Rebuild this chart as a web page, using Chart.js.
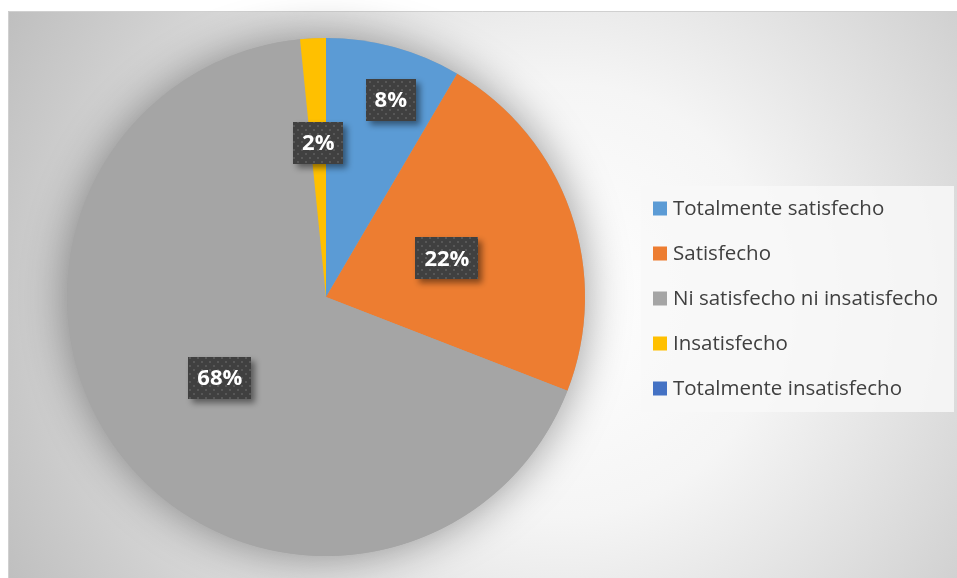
<!DOCTYPE html>
<html>
<head>
<meta charset="utf-8">
<script src="https://cdn.jsdelivr.net/npm/chart.js@4"></script>
<style>
  html, body { margin: 0; padding: 0; background: #fff; }
  #wrap { width: 957px; height: 578px; position: relative; }
</style>
</head>
<body>
<div id="wrap"><canvas id="chartSatisfaccion" width="957" height="578"></canvas></div>
<script>
// ====================================
// DATOS
// ====================================
const categorias = [
    'Totalmente satisfecho',
    'Satisfecho',
    'Ni satisfecho ni insatisfecho',
    'Insatisfecho',
    'Totalmente insatisfecho'
];
const porcentajes = [8.45, 22.45, 67.5, 1.6, 0];
const colores = ['#5b9bd5', '#ed7d31', '#a5a5a5', '#ffc000', '#4472c4'];

// posición de cada etiqueta (fracción del radio, desvío angular en grados)
const radioEtiqueta = [0.8, 0.49, 0.515, 0.595, 0.5];
const desvioEtiqueta = [3, 1.5, 0, 0, 0];

const FONT = '"Open Sans", "DejaVu Sans", sans-serif';

// patrón punteado de las cajas de etiqueta
function crearPatron(ctx) {
    const c = document.createElement('canvas');
    c.width = 8; c.height = 8;
    const p = c.getContext('2d');
    p.fillStyle = '#404040';
    p.fillRect(0, 0, 8, 8);
    p.fillStyle = '#575757';
    p.fillRect(1, 1, 2, 2);
    p.fillRect(5, 5, 2, 2);
    return ctx.createPattern(c, 'repeat');
}

// fondo con degradado radial y marco
const fondoPlugin = {
    id: 'fondo',
    beforeDraw(chart) {
        const ctx = chart.ctx;
        ctx.save();
        ctx.fillStyle = '#ffffff';
        ctx.fillRect(0, 0, chart.width, chart.height);
        const g = ctx.createRadialGradient(560, 300, 0, 560, 300, 620);
        g.addColorStop(0, '#ffffff');
        g.addColorStop(0.35, '#f5f5f5');
        g.addColorStop(1, '#bfbfbf');
        ctx.fillStyle = g;
        ctx.fillRect(8, 11, chart.width - 8, chart.height - 11);
        ctx.strokeStyle = '#d0d0d0';
        ctx.lineWidth = 1;
        ctx.beginPath();
        ctx.moveTo(8.5, chart.height);
        ctx.lineTo(8.5, 11.5);
        ctx.lineTo(chart.width, 11.5);
        ctx.stroke();
        ctx.restore();
    },
    beforeDatasetsDraw(chart) {
        // sombra suave del pastel
        const arc = chart.getDatasetMeta(0).data[0];
        if (!arc) return;
        const ctx = chart.ctx;
        ctx.save();
        ctx.shadowColor = 'rgba(0,0,0,0.4)';
        ctx.shadowBlur = 45;
        ctx.fillStyle = '#a5a5a5';
        ctx.beginPath();
        ctx.arc(arc.x, arc.y, arc.outerRadius, 0, Math.PI * 2);
        ctx.fill();
        ctx.restore();
    }
};

// etiquetas de porcentaje y leyenda
const etiquetasPlugin = {
    id: 'etiquetas',
    afterDatasetsDraw(chart) {
        const ctx = chart.ctx;
        const meta = chart.getDatasetMeta(0);
        const total = porcentajes.reduce((a, b) => a + b, 0);
        const patron = crearPatron(ctx);
        ctx.save();
        ctx.font = 'bold 22px ' + FONT;
        ctx.textAlign = 'center';
        ctx.textBaseline = 'middle';
        meta.data.forEach((arc, i) => {
            const v = porcentajes[i];
            if (!v) return;
            const ang = (arc.startAngle + arc.endAngle) / 2 + desvioEtiqueta[i] * Math.PI / 180;
            const r = arc.outerRadius * radioEtiqueta[i];
            const x = arc.x + Math.cos(ang) * r;
            const y = arc.y + Math.sin(ang) * r;
            const texto = Math.round(v / total * 100) + '%';
            const w = ctx.measureText(texto).width + 18;
            const h = 42;
            ctx.save();
            ctx.shadowColor = 'rgba(0,0,0,0.45)';
            ctx.shadowBlur = 6;
            ctx.shadowOffsetX = 4;
            ctx.shadowOffsetY = 4;
            ctx.fillStyle = patron;
            ctx.fillRect(Math.round(x - w / 2), Math.round(y - h / 2), Math.round(w), h);
            ctx.restore();
            ctx.fillStyle = '#ffffff';
            ctx.fillText(texto, x, y + 1);
        });

        // leyenda
        ctx.fillStyle = 'rgba(248,248,248,0.85)';
        ctx.fillRect(641, 186, 313, 226);
        ctx.font = '20.5px ' + FONT;
        ctx.textAlign = 'left';
        ctx.textBaseline = 'middle';
        categorias.forEach((cat, i) => {
            const y = 208.5 + i * 45;
            ctx.fillStyle = colores[i];
            ctx.fillRect(653, y - 7, 14, 14);
            ctx.fillStyle = '#404040';
            ctx.fillText(cat, 673, y + 1);
        });
        ctx.restore();
    }
};

new Chart(document.getElementById('chartSatisfaccion'), {
    type: 'pie',
    data: {
        labels: categorias,
        datasets: [{
            data: porcentajes,
            backgroundColor: colores,
            borderWidth: 0
        }]
    },
    options: {
        responsive: false,
        animation: false,
        layout: {
            padding: { left: 67, right: 372, top: 38, bottom: 22 }
        },
        plugins: {
            legend: { display: false },
            tooltip: { enabled: false }
        }
    },
    plugins: [fondoPlugin, etiquetasPlugin]
});
</script>
</body>
</html>
